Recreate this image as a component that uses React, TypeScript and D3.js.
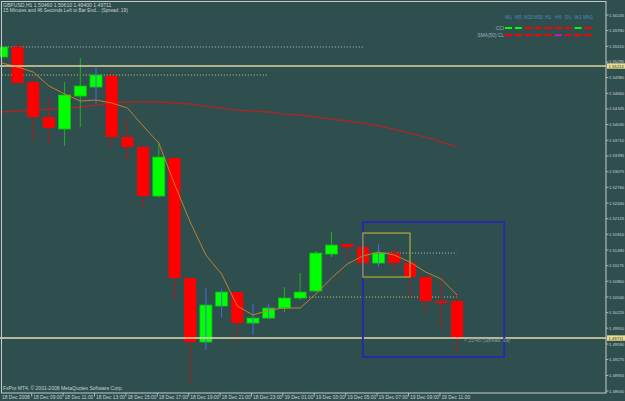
import * as React from 'react';
import * as d3 from 'd3';

// GBPUSD H1, 30 bars from 18 Dec 07:00 to 19 Dec 12:00
const opens = [1.55395, 1.55598, 1.54890, 1.54182, 1.53939, 1.54606, 1.54788, 1.55011, 1.53777, 1.53575, 1.52583, 1.53352, 1.50925, 1.49630, 1.50358, 1.50641, 1.50014, 1.50115, 1.50318, 1.50520, 1.50662, 1.51410, 1.51612, 1.51552, 1.51228, 1.51430, 1.51228, 1.50945, 1.50460, 1.50460];
const highs = [1.55618, 1.55679, 1.54991, 1.54586, 1.54890, 1.55375, 1.55193, 1.55132, 1.54161, 1.53615, 1.53656, 1.53413, 1.50945, 1.50722, 1.50702, 1.50641, 1.50399, 1.50399, 1.50742, 1.51026, 1.51471, 1.51855, 1.51612, 1.51552, 1.51612, 1.51552, 1.51228, 1.50945, 1.50904, 1.50610];
const lows = [1.55375, 1.54869, 1.53696, 1.53635, 1.53595, 1.53979, 1.54445, 1.53554, 1.53312, 1.52320, 1.52563, 1.50500, 1.48800, 1.49468, 1.50136, 1.49630, 1.49771, 1.50095, 1.50237, 1.50479, 1.50641, 1.51349, 1.51309, 1.51228, 1.51147, 1.51026, 1.50540, 1.50237, 1.49873, 1.49400];
const closes = [1.55598, 1.54869, 1.54182, 1.53959, 1.54627, 1.54809, 1.55031, 1.53777, 1.53575, 1.52583, 1.53372, 1.50925, 1.49630, 1.50378, 1.50641, 1.50014, 1.50115, 1.50318, 1.50520, 1.50641, 1.51430, 1.51592, 1.51552, 1.51228, 1.51430, 1.51228, 1.50945, 1.50460, 1.50419, 1.49711];
const blueWickBars = [6, 13, 14, 16, 17, 24];

const fastMa = [1.55274, 1.55193, 1.55092, 1.54809, 1.54647, 1.54505, 1.54525, 1.54465, 1.54364, 1.54000, 1.53656, 1.52826, 1.52057, 1.51390, 1.51005, 1.50358, 1.50176, 1.50277, 1.50318, 1.50318, 1.50601, 1.50925, 1.51208, 1.51370, 1.51451, 1.51390, 1.51248, 1.51046, 1.50904, 1.50581];
const slowMa = [1.54283, 1.54303, 1.54323, 1.54343, 1.54364, 1.54384, 1.54424, 1.54465, 1.54485, 1.54485, 1.54485, 1.54465, 1.54445, 1.54404, 1.54364, 1.54323, 1.54303, 1.54283, 1.54242, 1.54222, 1.54182, 1.54141, 1.54101, 1.54060, 1.54000, 1.53939, 1.53858, 1.53777, 1.53676, 1.53575];

const priceTicks = [1.56245, 1.55930, 1.55610, 1.55295, 1.54980, 1.54660, 1.54345, 1.54030, 1.53710, 1.53395, 1.53075, 1.52760, 1.52440, 1.52125, 1.51810, 1.51490, 1.51175, 1.50860, 1.50540, 1.50225, 1.49910, 1.49590, 1.49275, 1.48955, 1.48640];
const timeLabels = ['18 Dec 2008', '18 Dec 09:00', '18 Dec 11:00', '18 Dec 13:00', '18 Dec 15:00', '18 Dec 17:00', '18 Dec 19:00', '18 Dec 21:00', '18 Dec 23:00', '19 Dec 01:00', '19 Dec 03:00', '19 Dec 05:00', '19 Dec 07:00', '19 Dec 09:00', '19 Dec 11:00'];

// drawn objects: [price, from bar, to bar]
const dottedWhite = [[1.55598, 0, 23.1], [1.51430, 24.4, 29]];
const dottedYellow = [[1.55031, 0, 17], [1.50540, 19, 29]];
const hLevel = 1.55213;
const bid = 1.49711;
const blueBox = { x0: 23, x1: 32, p0: 1.52057, p1: 1.49326 };
const yellowBox = { x0: 23, x1: 26, p0: 1.51835, p1: 1.50945 };

const periods = ['M1', 'M5', 'M15', 'M30', 'H1', 'H4', 'D1', 'W1', 'MN1'];
const cciSignal = ['up', 'up', 'down', 'down', 'down', 'down', 'down', 'up', 'down'];
const smaSignal = ['down', 'down', 'down', 'down', 'down', 'flat', 'down', 'down', 'down'];

const signalColor = { up: '#00ff00', down: '#ff0000', flat: '#c020b0' };
const font = 'Liberation Sans, Arial, sans-serif';
const txt = '#c8d0d0';

export default function App() {
  const x = d3.scaleLinear().domain([0, 29]).range([1.8, 457.1]);
  const y = d3.scaleLinear().domain([1.4864, 1.56245]).range([391, 15]);
  const fmt = d3.format('.5f');
  const line = d3.line<number>().x((d, i) => x(i)).y(d => y(d));
  const legendX = d3.scaleLinear().domain([0, 8]).range([508.5, 588]);

  return (
    <svg width={625} height={401} style={{ position: 'absolute', left: 0, top: 0, background: '#2f4f4f' }}
      fontFamily={font}>
      <rect x={0} y={0} width={625} height={401} fill="#2f4f4f" />

      {/* header */}
      <text x={3} y={7} fontSize={5.1} fill={txt}>GBPUSD,H1  1.50460 1.50610 1.49400 1.49711</text>
      <text x={3} y={12.2} fontSize={4.8} fill={txt}>15 Minutes and 46 Seconds Left to Bar End... (Spread: 19)</text>

      {/* dotted levels */}
      {dottedWhite.map(([p, a, b], i) => (
        <line key={'dw' + i} x1={x(a)} x2={x(b)} y1={y(p)} y2={y(p)} stroke="#b8c4c4" strokeWidth={1} strokeDasharray="1,2" />
      ))}
      {dottedYellow.map(([p, a, b], i) => (
        <line key={'dy' + i} x1={x(a)} x2={x(b)} y1={y(p)} y2={y(p)} stroke="#d0c878" strokeWidth={1} strokeDasharray="1,2" />
      ))}

      {/* slow MA */}
      <path d={line(slowMa) || ''} fill="none" stroke="#a82828" strokeWidth={1.3} />

      {/* candles */}
      {opens.map((o, i) => {
        const c = closes[i];
        const up = c >= o;
        const cx = x(i);
        const top = y(Math.max(o, c));
        const bot = y(Math.min(o, c));
        const wick = blueWickBars.includes(i) ? '#4a6ae0' : up ? '#22b022' : '#a81c1c';
        return (
          <g key={i}>
            <line x1={cx} x2={cx} y1={y(highs[i])} y2={y(lows[i])} stroke={wick} strokeWidth={1} />
            <rect x={cx - 6} y={top} width={12} height={Math.max(bot - top, 1.5)}
              fill={up ? '#00ff00' : '#ff0000'} stroke={up ? '#10c010' : 'none'} strokeWidth={0.8} />
            {blueWickBars.includes(i) && up && (
              <line x1={cx} x2={cx} y1={top} y2={bot} stroke={wick} strokeWidth={1} />
            )}
          </g>
        );
      })}

      {/* fast MA */}
      <path d={line(fastMa) || ''} fill="none" stroke="#c0802c" strokeWidth={1} />

      {/* horizontal lines */}
      <line x1={0} x2={606} y1={y(hLevel)} y2={y(hLevel)} stroke="#dcd49a" strokeWidth={1.6} />
      <line x1={0} x2={606} y1={y(bid)} y2={y(bid)} stroke="#e4dcae" strokeWidth={1.4} />

      {/* boxes */}
      <rect x={x(blueBox.x0)} y={y(blueBox.p0)} width={x(blueBox.x1) - x(blueBox.x0)} height={y(blueBox.p1) - y(blueBox.p0)}
        fill="none" stroke="#2a2aa8" strokeWidth={2} />
      <rect x={x(yellowBox.x0)} y={y(yellowBox.p0)} width={x(yellowBox.x1) - x(yellowBox.x0)} height={y(yellowBox.p1) - y(yellowBox.p0)}
        fill="none" stroke="#b4a83a" strokeWidth={1.2} />

      <text x={464} y={y(bid) + 3.8} fontSize={5} fill="#8a9c9c">{'< 15:45 (Spread: 19)'}</text>

      {/* indicator table */}
      {periods.map((p, i) => (
        <text key={'p' + i} x={legendX(i)} y={18.8} fontSize={4.8} fill="#4a86c0" textAnchor="middle">{p}</text>
      ))}
      <text x={504} y={29.8} fontSize={4.8} fill="#9ab0c4" textAnchor="end">CCI</text>
      <text x={504} y={37} fontSize={4.8} fill="#9ab0c4" textAnchor="end">SMA(50) CL</text>
      {cciSignal.map((s, i) => (
        <rect key={'c' + i} x={legendX(i) - 3.5} y={27} width={7} height={2} fill={signalColor[s]} />
      ))}
      {smaSignal.map((s, i) => (
        <rect key={'s' + i} x={legendX(i) - 3.5} y={34.2} width={7} height={2} fill={signalColor[s]} />
      ))}

      {/* frame */}
      <rect x={1.5} y={1.5} width={604.5} height={391.5} fill="none" stroke="#c4cccc" strokeWidth={1} />

      {/* price axis */}
      {priceTicks.map((p, i) => (
        <g key={'t' + i}>
          <line x1={606} x2={608.5} y1={y(p)} y2={y(p)} stroke="#c4cccc" strokeWidth={0.8} />
          <text x={609} y={y(p) + 1.5} fontSize={4.2} fill={txt}>{fmt(p)}</text>
        </g>
      ))}
      {[hLevel, bid].map((p, i) => (
        <g key={'hl' + i}>
          <rect x={607} y={y(p) - 2.7} width={18} height={5.4} fill="#e6dc96" />
          <text x={608.5} y={y(p) + 1.5} fontSize={4.2} fill="#3a3a20">{fmt(p)}</text>
        </g>
      ))}

      {/* time axis */}
      {timeLabels.map((t, i) => (
        <g key={'x' + i}>
          {i > 0 && <line x1={x(i * 2) - 1.5} x2={x(i * 2) - 1.5} y1={393} y2={396.5} stroke="#c4cccc" strokeWidth={0.8} />}
          <text x={i === 0 ? 2 : x(i * 2)} y={398.6} fontSize={4.9} fill={txt}>{t}</text>
        </g>
      ))}

      <text x={3} y={390} fontSize={5} fill={txt}>FxPro MT4, © 2001-2008 MetaQuotes Software Corp.</text>
    </svg>
  );
}
